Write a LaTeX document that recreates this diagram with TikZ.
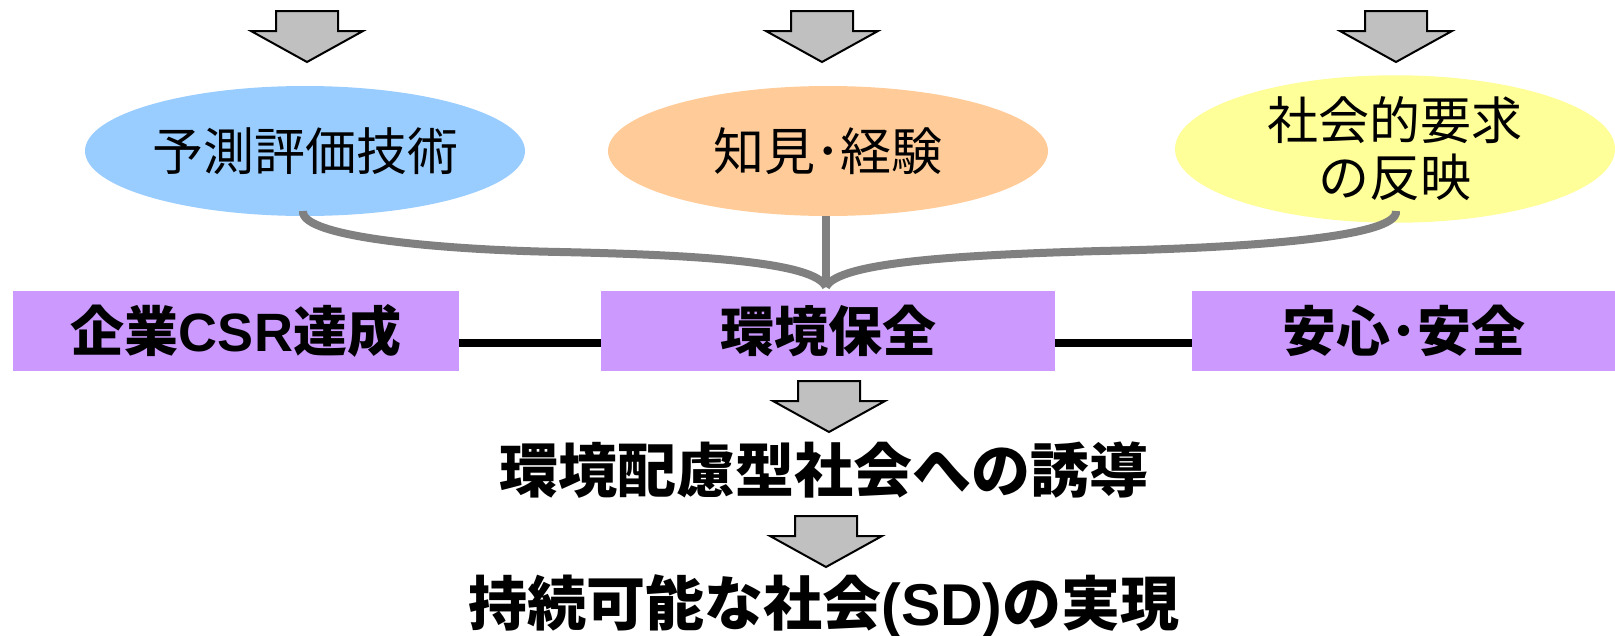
\documentclass[tikz,border=0pt]{standalone}
\usepackage{fontspec}
\setmainfont{Noto Sans CJK JP}
\newfontfamily\lat{Liberation Sans}
\usetikzlibrary{shapes.geometric}
\definecolor{boxpurple}{HTML}{CC99FF}
\definecolor{ellblue}{HTML}{99CCFF}
\definecolor{ellorange}{HTML}{FFCC99}
\definecolor{ellyellow}{HTML}{FFFF99}
\definecolor{linegray}{HTML}{808080}
\definecolor{arrowgray}{HTML}{C0C0C0}
\begin{document}
\begin{tikzpicture}[x=1pt,y=-1pt,
  ell/.style={ellipse, minimum width=440pt, minimum height=130pt, inner sep=0pt, font=\fontsize{51}{57}\selectfont, align=center},
  pbox/.style={fill=boxpurple, inner sep=0pt, minimum height=80pt, font=\fontsize{54}{60}\selectfont\bfseries},
  conn/.style={line width=8pt, linegray},
  bar/.style={line width=8pt, black},
  bigtext/.style={font=\fontsize{59}{64}\selectfont\bfseries, inner sep=0pt},
  downarr/.pic={\draw[line width=2pt, fill=arrowgray, line join=miter] (-31,0)--(31,0)--(31,20)--(56,20)--(0,51)--(-56,20)--(-31,20)--cycle;}
]
\useasboundingbox (0,0) rectangle (1615,635);
% top arrows
\pic at (307,11) {downarr};
\pic at (822,11) {downarr};
\pic at (1396,11) {downarr};
% ellipses
\node[ell, fill=ellblue] (e1) at (305,151) {予測評価技術};
\node[ell, fill=ellorange] (e2) at (828,151) {知見･経験};
\node[ell, fill=ellyellow] (e3) at (1395,149) {社会的要求\\の反映};
% boxes
\node[pbox, minimum width=446pt] (b1) at (236,331) {企業{\lat\bfseries CSR}達成};
\node[pbox, minimum width=454pt] (b2) at (828,331) {環境保全};
\node[pbox, minimum width=423pt] (b3) at (1403.5,331) {安心･安全};
% connectors
\coordinate (m) at (826,287);
\draw[conn] (e2.south -| m) -- (m);
\draw[conn] (303,211) .. controls (300,238) and (450,250) .. (560,252) .. controls (700,255) and (815,262) .. (m);
\draw[conn] (1396,211) .. controls (1399,238) and (1240,248) .. (1100,251) .. controls (960,255) and (838,262) .. (m);
\draw[bar] (b1.east |- 0,343) -- (b2.west |- 0,343);
\draw[bar] (b2.east |- 0,343) -- (b3.west |- 0,343);
% lower chain
\pic at (829,381) {downarr};
\node[bigtext] (t1) at (824,470) {環境配慮型社会への誘導};
\pic at (826,516) {downarr};
\node[bigtext] (t2) at (824,606) {持続可能な社会{\lat\bfseries (SD)}の実現};
\end{tikzpicture}
\end{document}
